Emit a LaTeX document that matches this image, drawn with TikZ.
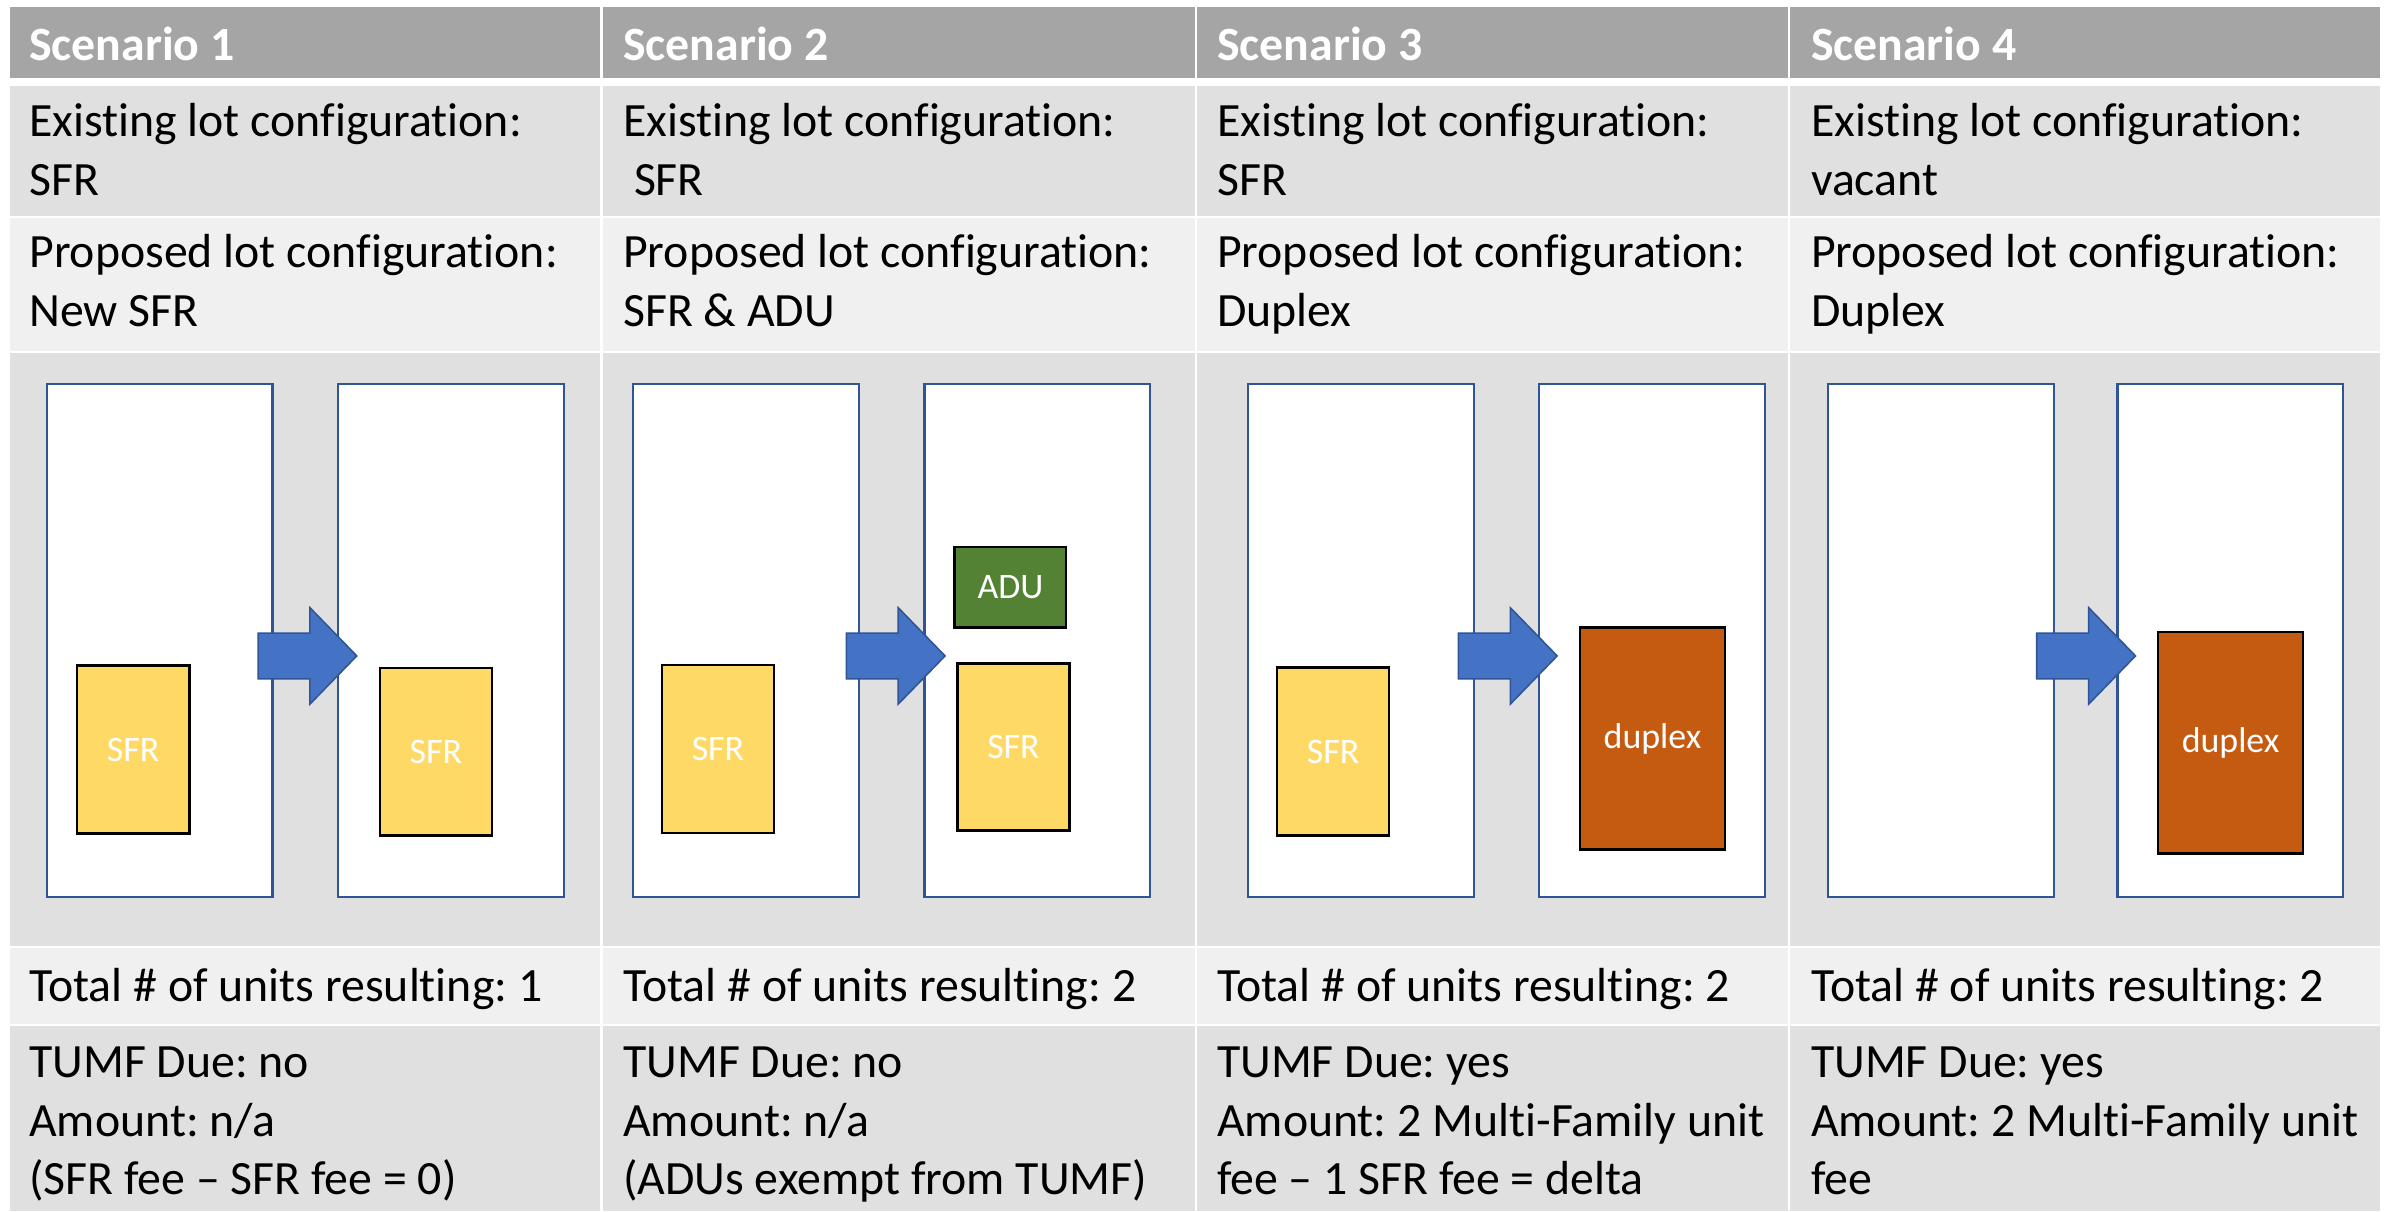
\documentclass[tikz,border=0pt]{standalone}
\usepackage{fontspec}
\setmainfont{Carlito}[Ligatures={TeX,NoCommon}]
\frenchspacing
\definecolor{hdr}{HTML}{A5A5A5}
\definecolor{rowA}{HTML}{E0E0E0}
\definecolor{rowB}{HTML}{F0F0F0}
\definecolor{lotblue}{HTML}{2F5597}
\definecolor{arrowblue}{HTML}{4472C4}
\definecolor{sfry}{HTML}{FFD966}
\definecolor{adug}{HTML}{548235}
\definecolor{dupo}{HTML}{C55A11}
\tikzset{
  txt/.style={anchor=base west, inner sep=0pt, text=black, font=\fontsize{31.3}{38.3}\selectfont},
  hdrtxt/.style={anchor=base west, inner sep=0pt, text=white, font=\fontsize{31.3}{38.3}\selectfont\bfseries},
  lot/.style={draw=lotblue, line width=1.5pt, fill=white, inner sep=0pt, minimum width=147.8pt, minimum height=336.2pt},
  bldg/.style={draw=black, line width=1.6pt, inner sep=0pt, text=white, font=\fontsize{23.5}{28}\selectfont},
  sfrbox/.style={bldg, fill=sfry, minimum width=73.5pt, minimum height=110pt},
  adubox/.style={bldg, fill=adug, minimum width=73pt, minimum height=52.7pt},
  dupbox/.style={bldg, fill=dupo, minimum width=95.2pt, minimum height=145.2pt},
  barrow/.style={fill=arrowblue, draw=lotblue, line width=1pt, line join=miter}
}
\newcommand\cellline[4]{\node[txt] (#1) at (#2,#3) {#4};}
\newcommand\blockarrow[2]{\draw[barrow] (#2,414.6) -- ++(34,0) -- ++(0,-16.6) -- ++(30.7,31.6) -- ++(-30.7,31.6) -- ++(0,-16.6) -- ++(-34,0) -- cycle;
  \coordinate (#1) at (#2,429.6);}
\begin{document}
\begin{tikzpicture}[x=1pt,y=-1pt]
\useasboundingbox (0,0) rectangle (1568,793.2);
% table cells
\foreach \l/\r in {6.5/393.3, 394.8/782.5, 784/1171, 1172.5/1559}{
  \fill[hdr]  (\l,4.5)   rectangle (\r,51.3);
  \fill[rowA] (\l,56.5)  rectangle (\r,141.3);
  \fill[rowB] (\l,142.8) rectangle (\r,229.7);
  \fill[rowA] (\l,231.2) rectangle (\r,619.3);
  \fill[rowB] (\l,620.8) rectangle (\r,670.6);
  \fill[rowA] (\l,672.1) rectangle (\r,793.2);
}
% headers
\node[hdrtxt] (h1) at (19,39.3) {Scenario 1};
\node[hdrtxt] (h2) at (408,39.3) {Scenario 2};
\node[hdrtxt] (h3) at (797,39.3) {Scenario 3};
\node[hdrtxt] (h4) at (1186,39.3) {Scenario 4};
% existing
\cellline{e1a}{19}{89.5}{Existing lot configuration:}
\cellline{e1b}{19}{127.8}{SFR}
\cellline{e2a}{408}{89.5}{Existing lot configuration:}
\cellline{e2b}{408}{127.8}{\ SFR}
\cellline{e3a}{797}{89.5}{Existing lot configuration:}
\cellline{e3b}{797}{127.8}{SFR}
\cellline{e4a}{1186}{89.5}{Existing lot configuration:}
\cellline{e4b}{1186}{127.8}{vacant}
% proposed
\cellline{p1a}{19}{175.5}{Proposed lot configuration:}
\cellline{p1b}{19}{213.8}{New SFR}
\cellline{p2a}{408}{175.5}{Proposed lot configuration:}
\cellline{p2b}{408}{213.8}{SFR \& ADU}
\cellline{p3a}{797}{175.5}{Proposed lot configuration:}
\cellline{p3b}{797}{213.8}{Duplex}
\cellline{p4a}{1186}{175.5}{Proposed lot configuration:}
\cellline{p4b}{1186}{213.8}{Duplex}
% totals
\cellline{t1}{19}{656}{Total \# of units resulting: 1}
\cellline{t2}{408}{656}{Total \# of units resulting: 2}
\cellline{t3}{797}{656}{Total \# of units resulting: 2}
\cellline{t4}{1186}{656}{Total \# of units resulting: 2}
% TUMF
\cellline{f1a}{19}{706}{TUMF Due: no}
\cellline{f1b}{19}{744.3}{Amount: n/a}
\cellline{f1c}{19}{782.6}{(SFR fee \textendash{} SFR fee = 0)}
\cellline{f2a}{408}{706}{TUMF Due: no}
\cellline{f2b}{408}{744.3}{Amount: n/a}
\cellline{f2c}{408}{782.6}{(ADUs exempt from TUMF)}
\cellline{f3a}{797}{706}{TUMF Due: yes}
\cellline{f3b}{797}{744.3}{Amount: 2 Multi-Family unit}
\cellline{f3c}{797}{782.6}{fee \textendash{} 1 SFR fee = delta}
\cellline{f4a}{1186}{706}{TUMF Due: yes}
\cellline{f4b}{1186}{744.3}{Amount: 2 Multi-Family unit}
\cellline{f4c}{1186}{782.6}{fee}
% lots
\node[lot] (l1a) at (104.5,419.6) {};
\node[lot] (l1b) at (295.4,419.6) {};
\node[lot] (l2a) at (488.65,419.6) {};
\node[lot] (l2b) at (679.45,419.6) {};
\node[lot] (l3a) at (891.35,419.6) {};
\node[lot] (l3b) at (1082.1,419.6) {};
\node[lot] (l4a) at (1271.35,419.6) {};
\node[lot] (l4b) at (1460.8,419.6) {};
% buildings
\node[sfrbox] (s1a) at (87.25,491) {SFR};
\node[sfrbox] (s1b) at (285.5,492.35) {SFR};
\node[sfrbox] (s2a) at (470.25,490.6) {SFR};
\node[adubox] (adu) at (661.8,384.55) {ADU};
\node[sfrbox, minimum height=109.3pt] (s2b) at (663.8,489.35) {SFR};
\node[sfrbox] (s3a) at (873.15,492.25) {SFR};
\node[dupbox] (d3) at (1082.35,483.65) {duplex};
\node[dupbox] (d4) at (1460.95,486.45) {duplex};
% block arrows
\blockarrow{a1}{169}
\blockarrow{a2}{554.3}
\blockarrow{a3}{955.2}
\blockarrow{a4}{1334}
\end{tikzpicture}
\end{document}
